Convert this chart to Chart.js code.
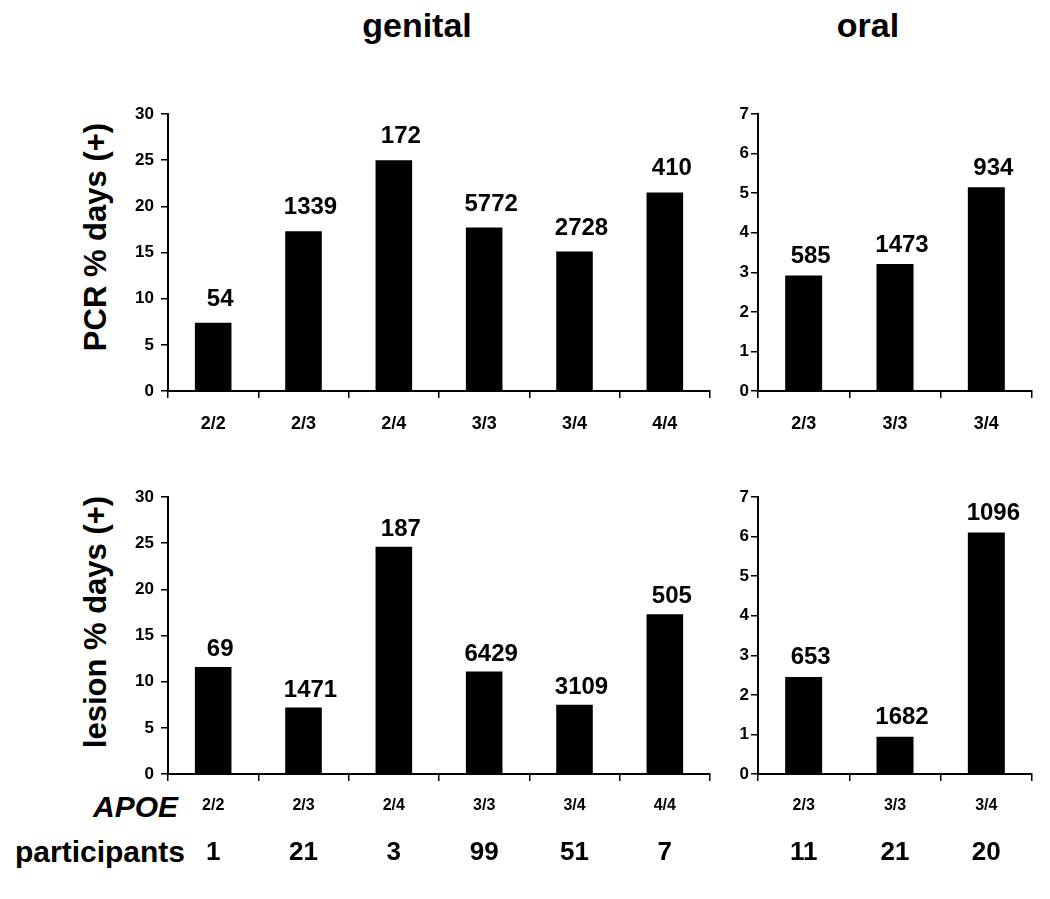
<!DOCTYPE html>
<html>
<head>
<meta charset="utf-8">
<script src="https://cdn.jsdelivr.net/npm/chart.js@4.4.1/dist/chart.umd.min.js"></script>
<style>
  body { margin: 0; background: #fff; width: 1050px; height: 899px; position: relative; overflow: hidden;
         font-family: "Liberation Sans", Arial, sans-serif; font-weight: bold; color: #000; }
  canvas { position: absolute; }
  .lbl { position: absolute; white-space: nowrap; line-height: 1; }
</style>
</head>
<body>

<div class="lbl" style="font-size:34px;left:417px;top:8px;transform:translateX(-50%)">genital</div>
<div class="lbl" style="font-size:34px;left:868px;top:8px;transform:translateX(-50%)">oral</div>
<div class="lbl" style="font-size:31px;left:95px;top:237px;transform:translate(-50%,-50%) rotate(-90deg)">PCR % days (+)</div>
<div class="lbl" style="font-size:31px;left:95px;top:622px;transform:translate(-50%,-50%) rotate(-90deg)">lesion % days (+)</div>
<div class="lbl" style="font-size:30px;right:872px;top:792px;font-style:italic">APOE</div>
<div class="lbl" style="font-size:30px;right:865px;top:837px">participants</div>

<canvas id="genitalPcr" width="725" height="400" style="left:0;top:60px"></canvas>
<canvas id="oralPcr" width="325" height="400" style="left:725px;top:60px"></canvas>
<canvas id="genitalLesion" width="725" height="439" style="left:0;top:460px"></canvas>
<canvas id="oralLesion" width="325" height="439" style="left:725px;top:460px"></canvas>

<script>
// ---- data ----
const genitalGenotypes = ['2/2', '2/3', '2/4', '3/3', '3/4', '4/4'];
const oralGenotypes = ['2/3', '3/3', '3/4'];

// PCR % days positive, with number of swab days above each bar
const genitalPcrValues = [7.4, 17.3, 25.0, 17.7, 15.1, 21.5];
const genitalPcrDays = [54, 1339, 172, 5772, 2728, 410];
const oralPcrValues = [2.92, 3.21, 5.15];
const oralPcrDays = [585, 1473, 934];

// lesion % days positive
const genitalLesionValues = [11.6, 7.2, 24.6, 11.1, 7.5, 17.3];
const genitalLesionDays = [69, 1471, 187, 6429, 3109, 505];
const oralLesionValues = [2.45, 0.94, 6.1];
const oralLesionDays = [653, 1682, 1096];

// participants per genotype
const genitalParticipants = [1, 21, 3, 99, 51, 7];
const oralParticipants = [11, 21, 20];

// y axis ranges
const genitalAxis = { max: 30, step: 5 };
const oralAxis = { max: 7, step: 1 };

const FONT = '"Liberation Sans", Arial, sans-serif';

// draws the day counts above bars and the participant row under the bottom charts
const barTextPlugin = {
    id: 'barText',
    afterDatasetsDraw(chart, args, opts) {
        const ctx = chart.ctx;
        const meta = chart.getDatasetMeta(0);
        ctx.save();
        ctx.fillStyle = '#000';
        ctx.textAlign = 'center';
        ctx.textBaseline = 'alphabetic';
        ctx.font = 'bold 24px ' + FONT;
        meta.data.forEach((bar, i) => {
            ctx.fillText(String(opts.counts[i]), bar.x + 7, bar.y - opts.gap);
        });
        if (opts.participants) {
            const xs = chart.scales.x;
            ctx.font = 'bold 26px ' + FONT;
            opts.participants.forEach((n, i) => {
                ctx.fillText(String(n), xs.getPixelForValue(i), opts.partBaseline);
            });
        }
        ctx.restore();
    }
};

function makeChart(id, labels, values, counts, cfg) {
    return new Chart(document.getElementById(id), {
        type: 'bar',
        data: {
            labels: labels,
            datasets: [{
                data: values,
                backgroundColor: '#000',
                borderWidth: 0,
                barPercentage: 0.405,
                categoryPercentage: 1
            }]
        },
        options: {
            responsive: false,
            animation: false,
            devicePixelRatio: 1,
            layout: { padding: { top: cfg.padTop, right: cfg.padRight, left: 0, bottom: 0 } },
            plugins: {
                legend: { display: false },
                tooltip: { enabled: false },
                barText: {
                    counts: counts,
                    gap: cfg.gap,
                    participants: cfg.participants || null,
                    partBaseline: cfg.partBaseline || 0
                }
            },
            scales: {
                x: {
                    grid: { drawOnChartArea: false, drawTicks: true, tickLength: 7, color: '#000', lineWidth: 1.5, offset: true },
                    border: { display: true, color: '#000', width: 2 },
                    ticks: { color: '#000', font: { family: FONT, size: cfg.xFont, weight: 'bold' }, padding: 15, maxRotation: 0, autoSkip: false },
                    afterFit: s => { s.height = cfg.xHeight; }
                },
                y: {
                    min: 0,
                    max: cfg.axis.max,
                    grid: { drawOnChartArea: false, drawTicks: true, tickLength: 7, color: '#000', lineWidth: 1.5 },
                    border: { display: true, color: '#000', width: 2 },
                    ticks: { stepSize: cfg.axis.step, color: '#000', font: { family: FONT, size: 17, weight: 'bold' }, padding: cfg.yPad },
                    afterFit: s => { s.width = cfg.yWidth; }
                }
            }
        },
        plugins: [barTextPlugin]
    });
}

makeChart('genitalPcr', genitalGenotypes, genitalPcrValues, genitalPcrDays, {
    axis: genitalAxis, padTop: 54, padRight: 15, yWidth: 168, xHeight: 69, xFont: 18, yPad: 7, gap: 17
});
makeChart('oralPcr', oralGenotypes, oralPcrValues, oralPcrDays, {
    axis: oralAxis, padTop: 54, padRight: 18, yWidth: 33, xHeight: 69, xFont: 18, yPad: 2, gap: 12
});
makeChart('genitalLesion', genitalGenotypes, genitalLesionValues, genitalLesionDays, {
    axis: genitalAxis, padTop: 37, padRight: 15, yWidth: 168, xHeight: 125, xFont: 16, yPad: 7, gap: 11,
    participants: genitalParticipants, partBaseline: 400
});
makeChart('oralLesion', oralGenotypes, oralLesionValues, oralLesionDays, {
    axis: oralAxis, padTop: 37, padRight: 18, yWidth: 33, xHeight: 125, xFont: 16, yPad: 2, gap: 13,
    participants: oralParticipants, partBaseline: 400
});
</script>
</body>
</html>
